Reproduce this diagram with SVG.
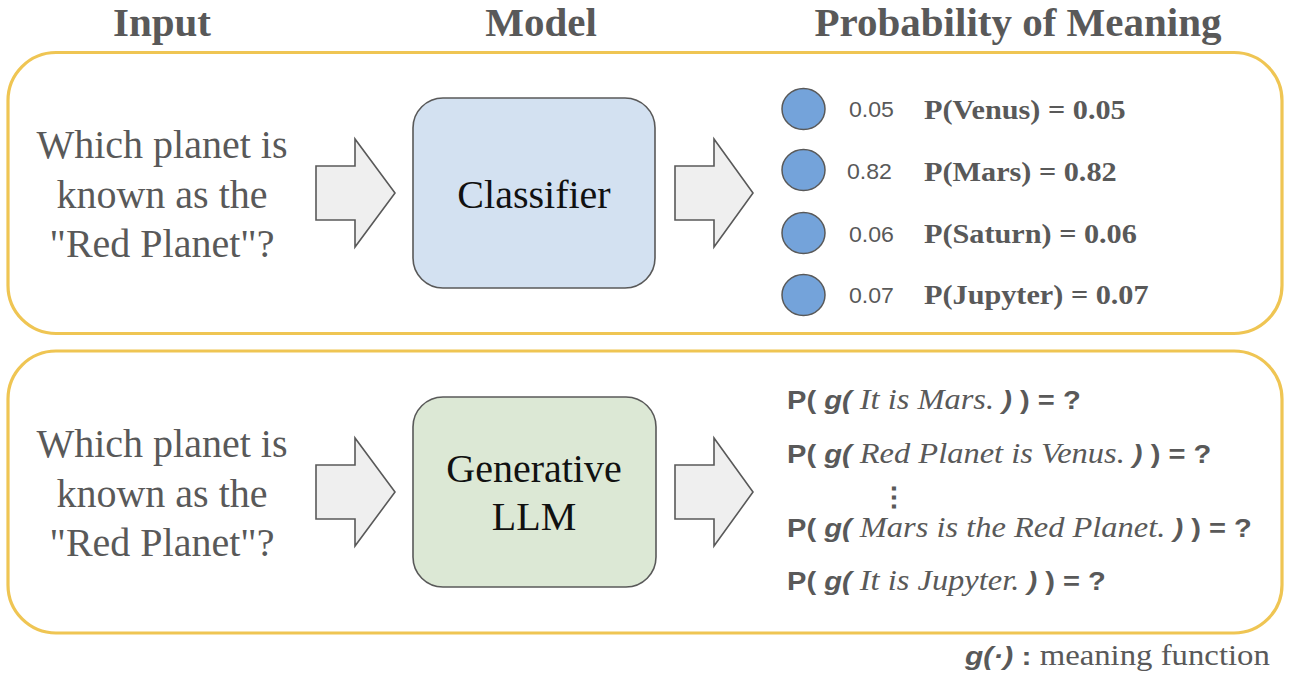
<svg xmlns="http://www.w3.org/2000/svg" width="1294" height="680" viewBox="0 0 1294 680">
<style>
.panel{fill:#ffffff;stroke:#EFC553;stroke-width:3.2}
.hdr{font-family:"Liberation Serif","Times New Roman",serif;font-weight:bold;font-size:41px;fill:#595959;text-anchor:middle}
.q{font-family:"Liberation Serif","Times New Roman",serif;font-size:40px;fill:#595959;text-anchor:middle}
.model{stroke:#595959;stroke-width:1.6}
.mt{font-family:"Liberation Serif","Times New Roman",serif;font-size:40px;fill:#111111;text-anchor:middle}
.arrow{fill:#EFEFEF;stroke:#595959;stroke-width:1.6;stroke-linejoin:miter}
.dot{fill:#74A3DA;stroke:#595959;stroke-width:1.5}
.num{font-family:"Liberation Sans",Arial,sans-serif;font-size:22px;fill:#595959}
.pb{font-family:"Liberation Serif","Times New Roman",serif;font-weight:bold;font-size:28px;fill:#595959}
.ln{font-family:"Liberation Sans",Arial,sans-serif;font-weight:bold;font-size:26px;fill:#595959}
.gi{font-style:italic}
.si{font-family:"Liberation Serif","Times New Roman",serif;font-weight:normal;font-style:italic;font-size:29px}
.ft{font-family:"Liberation Serif","Times New Roman",serif;font-weight:normal;font-size:28.5px}
</style>

<g id="headers">
<text class="hdr" x="162" y="36">Input</text>
<text class="hdr" x="541" y="36">Model</text>
<text class="hdr" x="1018" y="36">Probability of Meaning</text>
</g>

<g id="panel-classifier">
<rect class="panel" x="8" y="52.5" width="1274" height="281" rx="48" ry="48"/>
</g>
<g id="panel-llm">
<rect class="panel" x="8" y="351" width="1274" height="282" rx="48" ry="48"/>
</g>

<g id="input-top">
<text class="q" x="162" y="158">Which planet is</text>
<text class="q" x="162" y="208">known as the</text>
<text class="q" x="162" y="257">"Red Planet"?</text>
</g>
<g id="input-bottom">
<text class="q" x="162" y="457">Which planet is</text>
<text class="q" x="162" y="507">known as the</text>
<text class="q" x="162" y="556">"Red Planet"?</text>
</g>

<g id="classifier">
<rect class="model" x="413" y="98" width="242" height="190" rx="30" ry="30" fill="#D3E1F1"/>
<text class="mt" x="534" y="208">Classifier</text>
</g>
<g id="generative-llm">
<rect class="model" x="413" y="397" width="243" height="190" rx="30" ry="30" fill="#DCE8D5"/>
<text class="mt" x="534" y="482">Generative</text>
<text class="mt" x="534" y="530">LLM</text>
</g>

<g id="connectors">
<polygon class="arrow" points="316,166 355,166 355,139 395,193 355,247 355,220 316,220"/>
<polygon class="arrow" points="675,166 714,166 714,139 753,193 714,247 714,220 675,220"/>
<polygon class="arrow" points="316,465 355,465 355,438 395,492 355,546 355,519 316,519"/>
<polygon class="arrow" points="675,465 714,465 714,438 753,492 714,546 714,519 675,519"/>
</g>

<g id="classifier-probabilities">
<ellipse class="dot" cx="803.5" cy="109" rx="21.5" ry="20.5"/>
<ellipse class="dot" cx="803.5" cy="170" rx="21.5" ry="20.5"/>
<ellipse class="dot" cx="803.5" cy="233" rx="21.5" ry="20.5"/>
<ellipse class="dot" cx="803.5" cy="295" rx="21.5" ry="20.5"/>
<text class="num" transform="translate(849,117) scale(1.05,1)">0.05</text>
<text class="num" transform="translate(847,179) scale(1.05,1)">0.82</text>
<text class="num" transform="translate(849,242) scale(1.05,1)">0.06</text>
<text class="num" transform="translate(849,303) scale(1.05,1)">0.07</text>
<text class="pb" transform="translate(924,119) scale(1.08,1)">P(Venus) = 0.05</text>
<text class="pb" transform="translate(924,181) scale(1.08,1)">P(Mars) = 0.82</text>
<text class="pb" transform="translate(924,243) scale(1.08,1)">P(Saturn) = 0.06</text>
<text class="pb" transform="translate(924,304) scale(1.08,1)">P(Jupyter) = 0.07</text>
</g>

<g id="llm-probabilities">
<text class="ln" transform="translate(787,409) scale(1.12,1)">P( <tspan class="gi">g(</tspan> <tspan class="si">It is Mars.</tspan> <tspan class="gi">)</tspan> ) = ?</text>
<text class="ln" transform="translate(787,463) scale(1.12,1)">P( <tspan class="gi">g(</tspan> <tspan class="si">Red Planet is Venus.</tspan>  <tspan class="gi">)</tspan> ) = ?</text>
<text class="ln" font-size="34" transform="translate(879,506) scale(1.15,1)">⋮</text>
<text class="ln" transform="translate(787,537) scale(1.12,1)">P( <tspan class="gi">g(</tspan> <tspan class="si">Mars is the Red Planet.</tspan> <tspan class="gi">)</tspan> ) = ?</text>
<text class="ln" transform="translate(787,590) scale(1.12,1)">P( <tspan class="gi">g(</tspan> <tspan class="si">It is Jupyter.</tspan>  <tspan class="gi">)</tspan> ) = ?</text>
</g>

<g id="legend">
<text class="ln" font-size="27" transform="translate(965,665) scale(1.15,1)"><tspan class="gi">g(·)</tspan> : <tspan class="ft">meaning function</tspan></text>
</g>
</svg>
